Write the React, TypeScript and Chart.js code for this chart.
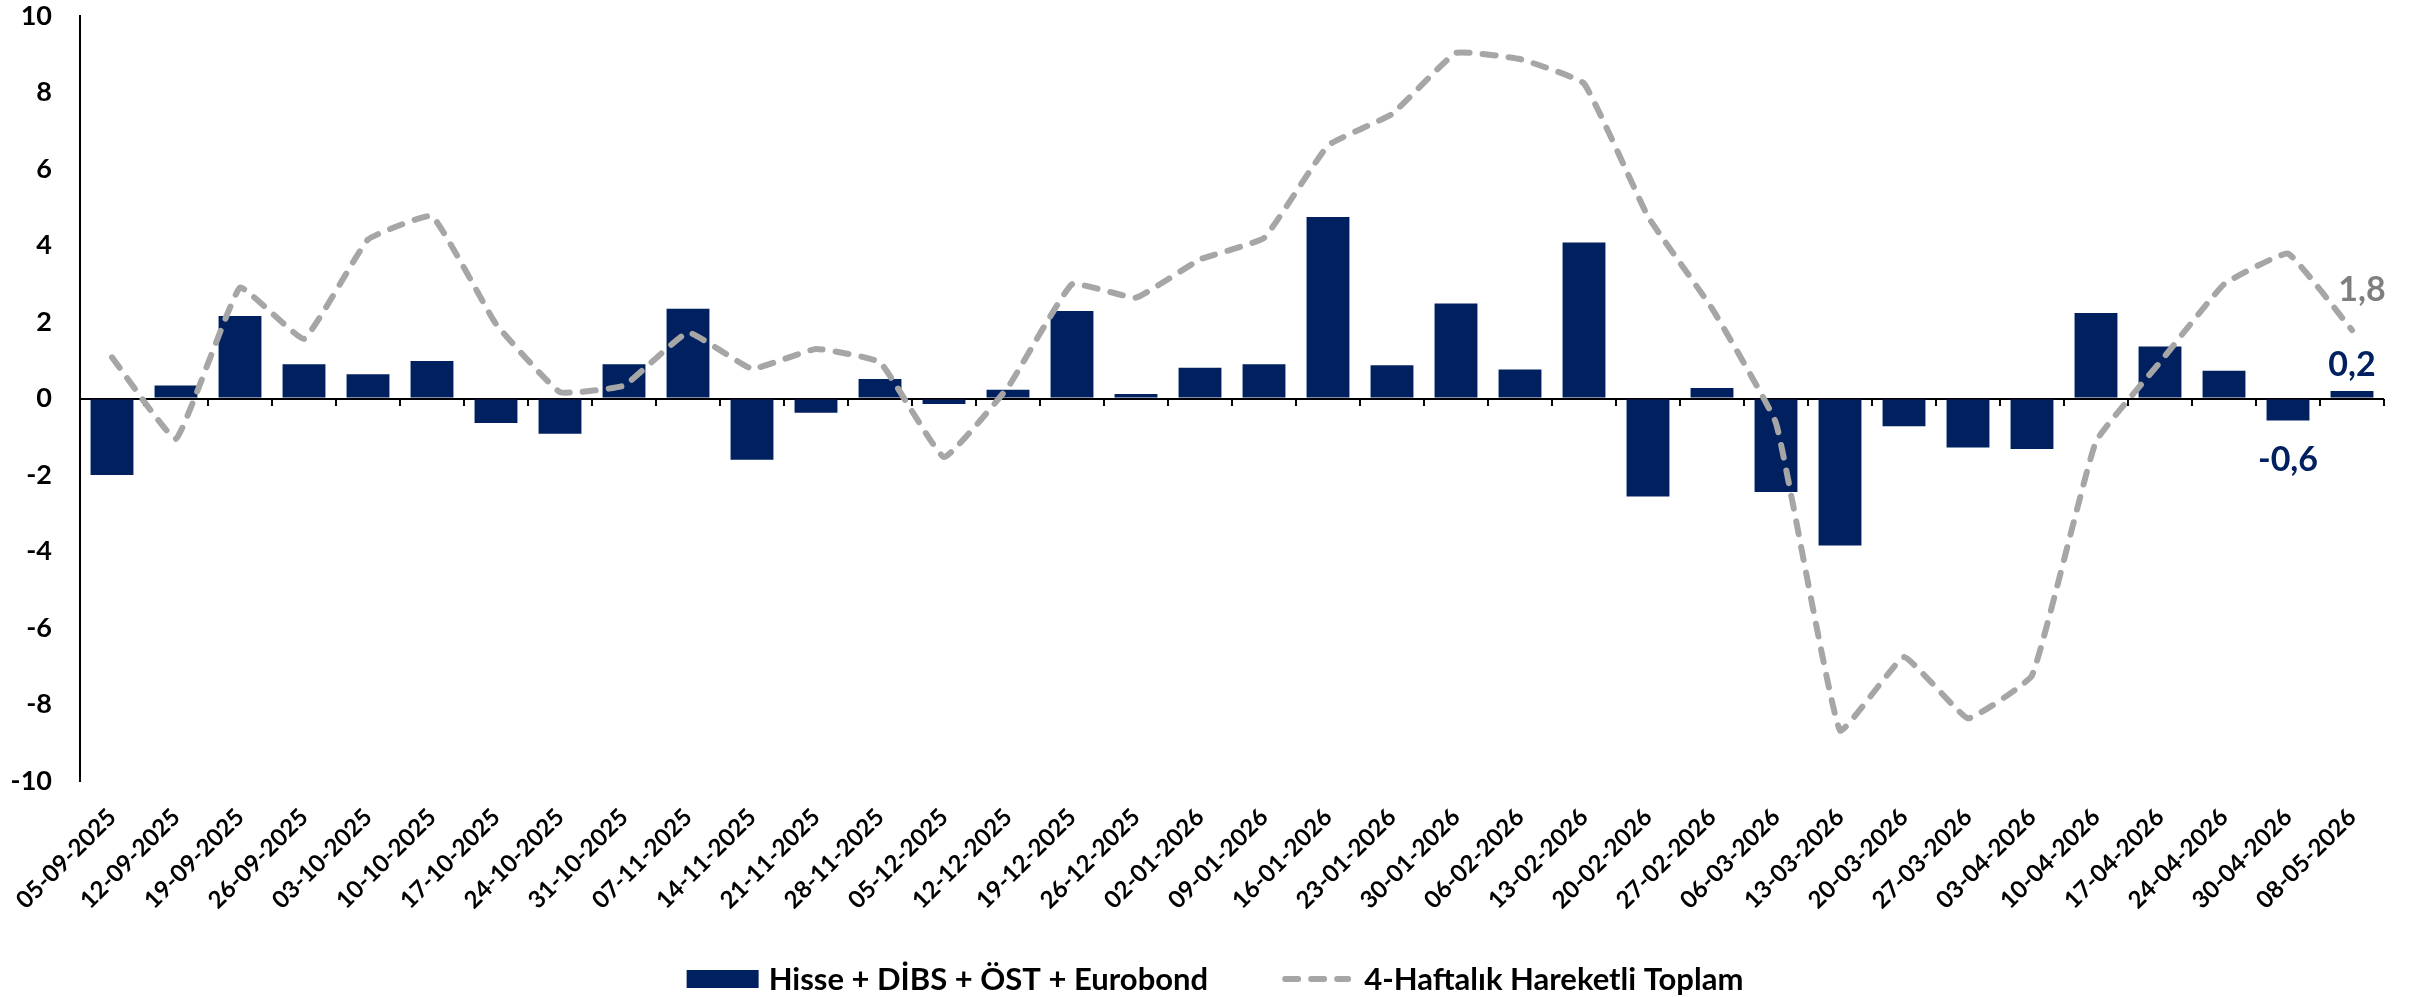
import React, { useEffect, useRef } from 'react';
import { Chart, registerables } from 'chart.js';

Chart.register(...registerables);

const categories = [
  '05-09-2025', '12-09-2025', '19-09-2025', '26-09-2025', '03-10-2025', '10-10-2025',
  '17-10-2025', '24-10-2025', '31-10-2025', '07-11-2025', '14-11-2025', '21-11-2025',
  '28-11-2025', '05-12-2025', '12-12-2025', '19-12-2025', '26-12-2025', '02-01-2026',
  '09-01-2026', '16-01-2026', '23-01-2026', '30-01-2026', '06-02-2026', '13-02-2026',
  '20-02-2026', '27-02-2026', '06-03-2026', '13-03-2026', '20-03-2026', '27-03-2026',
  '03-04-2026', '10-04-2026', '17-04-2026', '24-04-2026', '30-04-2026', '08-05-2026',
];

const weeklyFlows = [
  -2.0, 0.34, 2.16, 0.9, 0.64, 0.98,
  -0.64, -0.92, 0.9, 2.35, -1.6, -0.37,
  0.51, -0.14, 0.23, 2.29, 0.12, 0.81,
  0.9, 4.75, 0.87, 2.49, 0.76, 4.08,
  -2.56, 0.28, -2.44, -3.84, -0.72, -1.28,
  -1.32, 2.24, 1.36, 0.73, -0.57, 0.2,
];

const rolling4Week = [
  1.08, -1.05, 2.9, 1.56, 4.16, 4.77,
  1.95, 0.17, 0.34, 1.73, 0.78, 1.3,
  0.95, -1.53, 0.3, 2.99, 2.64, 3.64,
  4.2, 6.62, 7.44, 9.04, 8.88, 8.24,
  4.76, 2.36, -0.64, -8.68, -6.76, -8.36,
  -7.24, -1.12, 0.95, 2.99, 3.79, 1.79,
];

const yMin = -10;
const yMax = 10;
const yStep = 2;

const barLabelIndices = [34, 35];
const lineLabelIndices = [35];

const seriesNames = ['Hisse + DİBS + ÖST + Eurobond', '4-Haftalık Hareketli Toplam'];

const NAVY = '#002060';
const GRAY = '#A6A6A6';
const LABEL_GRAY = '#7F7F7F';
const FONT = 'Lato, "Open Sans", sans-serif';

const fmt = (v: number) => v.toFixed(1).replace('.', ',');

const overlayPlugin = {
  id: 'overlay',
  afterDatasetsDraw(chart: any) {
    const ctx = chart.ctx;
    const lineMeta = chart.getDatasetMeta(0);
    const barMeta = chart.getDatasetMeta(1);
    ctx.save();
    ctx.font = `bold 34px ${FONT}`;
    ctx.textAlign = 'center';
    ctx.textBaseline = 'middle';
    barLabelIndices.forEach((i) => {
      const el = barMeta.data[i];
      const v = weeklyFlows[i];
      ctx.fillStyle = NAVY;
      const y = v >= 0 ? el.y - 26 : el.y + 40;
      ctx.fillText(fmt(v), el.x, y);
    });
    lineLabelIndices.forEach((i) => {
      const el = lineMeta.data[i];
      ctx.fillStyle = LABEL_GRAY;
      ctx.fillText(fmt(rolling4Week[i]), el.x + 10, el.y - 40);
    });
    ctx.restore();
  },
  afterDraw(chart: any) {
    const ctx = chart.ctx;
    ctx.save();
    ctx.font = `bold 31px ${FONT}`;
    ctx.textBaseline = 'middle';
    ctx.textAlign = 'left';
    const boxW = 72;
    const lineW = 69;
    const gapBoxText = 10;
    const gapItems = 74;
    const gapLineText = 13;
    const t1 = ctx.measureText(seriesNames[0]).width;
    const t2 = ctx.measureText(seriesNames[1]).width;
    const total = boxW + gapBoxText + t1 + gapItems + lineW + gapLineText + t2;
    const cy = 979;
    let x = chart.width / 2 + 9 - total / 2;
    ctx.fillStyle = NAVY;
    ctx.fillRect(x, cy - 9, boxW, 18);
    x += boxW + gapBoxText;
    ctx.fillStyle = '#000';
    ctx.fillText(seriesNames[0], x, cy + 1);
    x += t1 + gapItems;
    ctx.strokeStyle = GRAY;
    ctx.lineWidth = 6;
    ctx.lineCap = 'round';
    ctx.setLineDash([13, 13]);
    ctx.beginPath();
    ctx.moveTo(x + 3, cy);
    ctx.lineTo(x + lineW - 3, cy);
    ctx.stroke();
    ctx.setLineDash([]);
    x += lineW + gapLineText;
    ctx.fillStyle = '#000';
    ctx.fillText(seriesNames[1], x, cy + 1);
    ctx.restore();
  },
};

export default function App() {
  const canvasRef = useRef<HTMLCanvasElement | null>(null);

  useEffect(() => {
    if (!canvasRef.current) return;
    const chart = new Chart(canvasRef.current, {
      type: 'bar',
      data: {
        labels: categories,
        datasets: [
          {
            type: 'line',
            label: seriesNames[1],
            data: rolling4Week,
            borderColor: GRAY,
            borderWidth: 6,
            borderDash: [13, 13],
            borderCapStyle: 'round',
            borderJoinStyle: 'round',
            pointRadius: 0,
            tension: 0.1,
            fill: false,
            xAxisID: 'x',
            yAxisID: 'y',
          } as any,
          {
            type: 'bar',
            label: seriesNames[0],
            data: weeklyFlows,
            backgroundColor: NAVY,
            borderWidth: 0,
            barPercentage: 0.67,
            categoryPercentage: 1,
            xAxisID: 'x',
            yAxisID: 'y',
          },
        ],
      },
      options: {
        animation: false,
        responsive: true,
        maintainAspectRatio: false,
        layout: { padding: { top: 14, right: 28, bottom: 86, left: 0 } },
        plugins: {
          legend: { display: false },
          tooltip: { enabled: false },
        },
        scales: {
          x: {
            type: 'category',
            position: 'bottom',
            offset: true,
            grid: { display: false },
            border: { display: false },
            ticks: {
              autoSkip: false,
              maxRotation: 45,
              minRotation: 45,
              padding: 14,
              color: '#000',
              font: { family: FONT, size: 24, weight: 'bold' },
            },
            afterFit: (s: any) => { s.height = 130; },
          },
          x2: {
            type: 'category',
            labels: categories,
            position: { y: 0 } as any,
            offset: true,
            grid: {
              offset: true,
              drawOnChartArea: false,
              drawTicks: true,
              tickLength: 7,
              color: '#000',
              lineWidth: 2,
            },
            border: { display: false },
            ticks: { display: false },
          },
          y: {
            min: yMin,
            max: yMax,
            ticks: {
              stepSize: yStep,
              padding: 0,
              color: '#000',
              font: { family: FONT, size: 27, weight: 'bold' },
            },
            grid: {
              drawTicks: true,
              tickLength: 28,
              tickColor: 'rgba(0,0,0,0)',
              color: (c: any) => (c.tick && c.tick.value === 0 ? '#000' : 'rgba(0,0,0,0)'),
              lineWidth: 2,
            },
            border: { display: true, color: '#000', width: 2 },
            afterFit: (s: any) => { s.width = 80; },
          },
        },
      },
      plugins: [overlayPlugin],
    });
    return () => chart.destroy();
  }, []);

  return (
    <div style={{ position: 'absolute', left: 0, top: 0, width: '2412px', height: '997px', background: '#fff' }}>
      <canvas ref={canvasRef} />
    </div>
  );
}
